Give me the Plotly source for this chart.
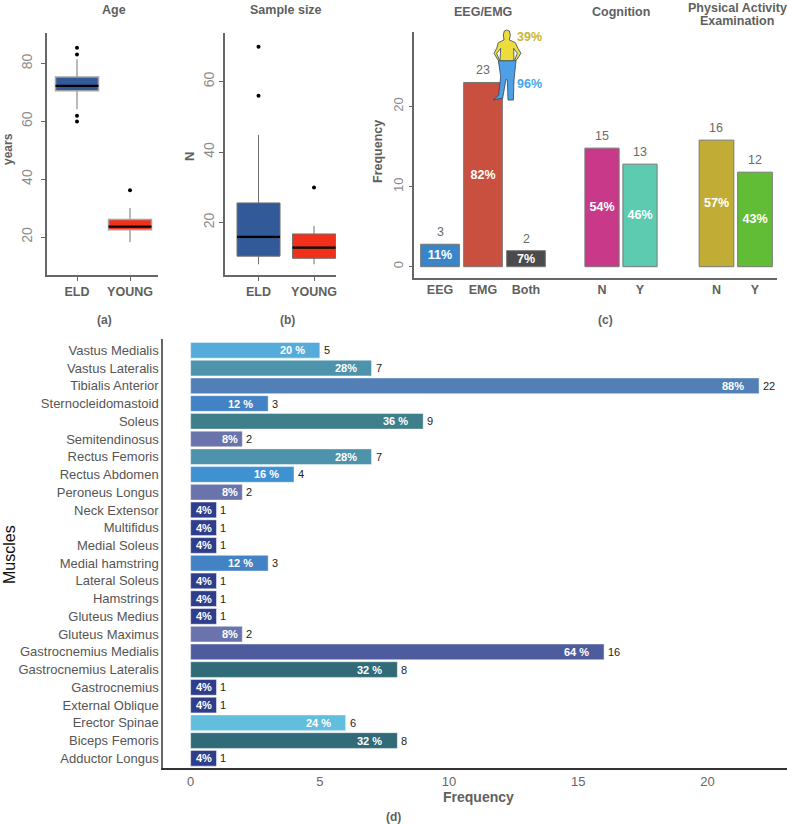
import plotly.graph_objects as go

W, H = 787, 824
FONT = "Liberation Sans"

# (a) age, (b) sample size: box stats
groups = ["ELD", "YOUNG"]
box_colors = ["#325a98", "#f0301a"]
age_q1 = [70.6, 22.5]
age_med = [72.3, 23.6]
age_q3 = [75.4, 26.1]
age_low = [64.2, 18.2]
age_high = [81.5, 30.0]
age_out_x = ["ELD", "ELD", "ELD", "ELD", "YOUNG"]
age_out_y = [85.5, 83.2, 62.0, 60.0, 36.2]

n_q1 = [10.5, 9.9]
n_med = [16.0, 12.9]
n_q3 = [25.6, 16.8]
n_low = [8.2, 8.2]
n_high = [44.9, 19.1]
n_out_x = ["ELD", "ELD", "YOUNG"]
n_out_y = [69.9, 56.0, 30.0]

# (c) counts
eeg_cats = ["EEG", "EMG", "Both"]
eeg_heights = [2.8, 23, 2]
eeg_counts = ["3", "23", "2"]
eeg_pct = ["11%", "82%", "7%"]
eeg_colors = ["#3a85c8", "#c94f3e", "#4b4b4b"]

cog_cats = ["N", "Y"]
cog_heights = [14.8, 12.8]
cog_counts = ["15", "13"]
cog_pct = ["54%", "46%"]
cog_colors = ["#c8398a", "#5ccbaf"]

pa_cats = ["N", "Y"]
pa_heights = [15.8, 11.8]
pa_counts = ["16", "12"]
pa_pct = ["57%", "43%"]
pa_colors = ["#c1ad35", "#62bd36"]

# (d) muscles, bottom to top
muscles = [
    "Adductor Longus", "Biceps Femoris", "Erector Spinae", "External Oblique",
    "Gastrocnemius", "Gastrocnemius Lateralis", "Gastrocnemius Medialis",
    "Gluteus Maximus", "Gluteus Medius", "Hamstrings", "Lateral Soleus",
    "Medial hamstring", "Medial Soleus", "Multifidus", "Neck Extensor",
    "Peroneus Longus", "Rectus Abdomen", "Rectus Femoris", "Semitendinosus",
    "Soleus", "Sternocleidomastoid", "Tibialis Anterior", "Vastus Lateralis",
    "Vastus Medialis",
]
muscle_freq = [1, 8, 6, 1, 1, 8, 16, 2, 1, 1, 1, 3, 1, 1, 1, 2, 4, 7, 2, 9, 3, 22, 7, 5]
muscle_pct = [
    "4%", "32 %", "24 %", "4%", "4%", "32 %", "64 %", "8%", "4%", "4%", "4%",
    "12 %", "4%", "4%", "4%", "8%", "16 %", "28%", "8%", "36 %", "12 %", "88%",
    "28%", "20 %",
]
freq_colors = {
    1: "#2f3d8a", 2: "#6a73ab", 3: "#4382c4", 4: "#3f92d2", 5: "#55acdb",
    6: "#62bedd", 7: "#4c93ab", 8: "#326b78", 9: "#3f7f8a", 16: "#4e5c9d",
    22: "#527fb6",
}


def px_x(x):
    return x / W


def px_y(y):
    return 1 - y / H


def label(x, y, text, size=12.5, color="#5f5f5f", bold=True, angle=0):
    return dict(
        x=px_x(x), y=px_y(y), xref="paper", yref="paper", text=text, showarrow=False,
        textangle=angle, xanchor="center", yanchor="middle",
        font=dict(family=FONT, size=size, color=color, weight="bold" if bold else "normal"),
    )


def icon_path(points, color):
    path = "M " + " L ".join(f"{px_x(480 + x / 3):.4f},{px_y(20 + y / 3):.4f}" for x, y in points) + " Z"
    return dict(type="path", xref="paper", yref="paper", path=path, fillcolor=color,
                line=dict(color="#33415c", width=0.8), layer="above")


fig = go.Figure()


def add_boxes(xa, ya, q1, med, q3, low, high, out_x, out_y, width, line_color, whisker):
    for i, g in enumerate(groups):
        fig.add_trace(go.Box(
            x=[g], q1=[q1[i]], median=[med[i]], q3=[q3[i]], lowerfence=[low[i]], upperfence=[high[i]],
            width=width, whiskerwidth=0, fillcolor=box_colors[i], xaxis=xa, yaxis=ya,
            line=dict(color=line_color, width=whisker), boxpoints=False,
        ))
        # black median drawn as a flat box on top
        fig.add_trace(go.Box(
            x=[g], q1=[med[i]], median=[med[i]], q3=[med[i]], lowerfence=[med[i]], upperfence=[med[i]],
            width=width, whiskerwidth=0, xaxis=xa, yaxis=ya,
            line=dict(color="black", width=2.2), boxpoints=False,
        ))
    fig.add_trace(go.Scatter(
        x=out_x, y=out_y, mode="markers", xaxis=xa, yaxis=ya,
        marker=dict(color="black", size=4),
    ))


add_boxes("x", "y", age_q1, age_med, age_q3, age_low, age_high, age_out_x, age_out_y, 0.81, "#a3a3a3", 1.5)
add_boxes("x2", "y2", n_q1, n_med, n_q3, n_low, n_high, n_out_x, n_out_y, 0.775, "#707070", 1)


def add_bars(xa, cats, heights, pct, colors):
    fig.add_trace(go.Bar(
        x=cats, y=heights, width=0.9, xaxis=xa, yaxis="y3", marker=dict(color=colors, line=dict(color="#777777", width=1)),
        text=pct, textposition="inside", insidetextanchor="middle", textangle=0, constraintext="none",
        textfont=dict(family=FONT, size=12.5, color="white", weight="bold"),
    ))


add_bars("x3", eeg_cats, eeg_heights, eeg_pct, eeg_colors)
add_bars("x4", cog_cats, cog_heights, cog_pct, cog_colors)
add_bars("x5", pa_cats, pa_heights, pa_pct, pa_colors)

fig.add_trace(go.Bar(
    y=muscles, x=muscle_freq, orientation="h", width=0.885, xaxis="x6", yaxis="y6",
    marker=dict(color=[freq_colors[v] for v in muscle_freq], line=dict(color="rgba(255,255,255,0.45)", width=1)),
))

annotations = [
    label(114, 10, "Age"), label(286, 10, "Sample size"), label(483, 12, "EEG/EMG"),
    label(621, 12, "Cognition"),
    label(737, 8, "Physical Activity"), label(737, 21, "Examination"),
    label(8, 149, "years", 12, angle=-90), label(190, 157, "N", 13, angle=-90), label(378, 152, "Frequency", angle=-90),
    label(104, 320, "(a)", 12), label(287, 320, "(b)", 12), label(605, 320, "(c)", 12), label(393, 817, "(d)", 12),
    label(478, 797, "Frequency", 14), label(9, 555, "Muscles", 16, "#111111", False, -90),
    label(529, 37, "39%", 12.5, "#c9b52f"), label(529, 84, "96%", 12.5, "#45a8ec"),
]

# counts above the bars of (c)
for xa, cats, heights, counts in [
    ("x3", eeg_cats, eeg_heights, eeg_counts),
    ("x4", cog_cats, cog_heights, cog_counts),
    ("x5", pa_cats, pa_heights, pa_counts),
]:
    for c, h, t in zip(cats, heights, counts):
        annotations.append(dict(
            x=c, y=h, xref=xa, yref="y3", text=t, showarrow=False, yanchor="bottom", yshift=3,
            font=dict(family=FONT, size=12.5, color="#6a6a6a"),
        ))

# percent inside and count beside the bars of (d)
for m, v, p in zip(muscles, muscle_freq, muscle_pct):
    annotations.append(dict(
        x=v, y=m, xref="x6", yref="y6", text=p, showarrow=False, xanchor="right",
        xshift=-13 if v > 2 else -2.5,
        font=dict(family=FONT, size=11, color="white", weight="bold"),
    ))
    annotations.append(dict(
        x=v, y=m, xref="x6", yref="y6", text=str(v), showarrow=False, xanchor="left", xshift=2,
        font=dict(family=FONT, size=11, color="#222222"),
    ))

# pictogram on the EMG bar
legs = [(55, 122), (108, 122), (102, 180), (100, 240), (84, 240), (82, 180), (78, 178),
        (68, 235), (40, 239), (56, 226), (62, 170)]
body = [(72, 60), (70, 45), (73, 33), (80, 30), (88, 33), (91, 45), (88, 60), (106, 68), (114, 85),
        (123, 100), (108, 122), (104, 120), (112, 100), (101, 85), (102, 122), (60, 122), (62, 85),
        (50, 100), (58, 120), (55, 122), (42, 100), (50, 85), (55, 68)]
shapes = [icon_path(legs, "#4d9fe6"), icon_path(body, "#ecdc3c")]

AXIS = dict(showgrid=False, zeroline=False, showline=True, linecolor="#666666", linewidth=1.5, automargin=False)
NUM_FONT = dict(family=FONT, size=14, color="#8c8c8c")
CAT_FONT = dict(family=FONT, size=12.5, color="#5f5f5f", weight="bold")


def xdom(a, b):
    return [px_x(a), px_x(b)]


def ydom(top, bottom):
    return [px_y(bottom), px_y(top)]


fig.update_layout(
    template="none", width=W, height=H, margin=dict(l=0, r=0, t=0, b=0), showlegend=False,
    plot_bgcolor="white", paper_bgcolor="white", boxmode="overlay", barmode="overlay",
    annotations=annotations, shapes=shapes,
    xaxis=dict(AXIS, domain=xdom(47, 158), anchor="y", range=[-0.566, 1.528], ticks="outside", ticklen=4,
               tickcolor="#666666", tickfont=CAT_FONT, categoryorder="array", categoryarray=groups),
    yaxis=dict(AXIS, domain=ydom(33, 275), anchor="x", range=[6.85, 90.6], tickvals=[20, 40, 60, 80], ticks="outside",
               ticklen=4, tickcolor="#666666", tickangle=-90, tickfont=NUM_FONT, ticklabelstandoff=4),
    xaxis2=dict(AXIS, domain=xdom(225, 336), anchor="y2", range=[-0.604, 1.396], ticks="outside", ticklen=4,
                tickcolor="#666666", tickfont=CAT_FONT, categoryorder="array", categoryarray=groups),
    yaxis2=dict(AXIS, domain=ydom(33, 275), anchor="x2", range=[5.16, 73.8], tickvals=[20, 40, 60], ticks="outside",
                ticklen=4, tickcolor="#666666", tickangle=-90, tickfont=NUM_FONT),
    xaxis3=dict(AXIS, domain=xdom(414.3, 565), anchor="y3", range=[-0.598, 2.907], tickfont=CAT_FONT,
                categoryorder="array", categoryarray=eeg_cats),
    xaxis4=dict(AXIS, domain=xdom(565, 678), anchor="y3", range=[-0.974, 2], tickfont=CAT_FONT,
                categoryorder="array", categoryarray=cog_cats),
    xaxis5=dict(AXIS, domain=xdom(678, 776.7), anchor="y3", range=[-1.0, 1.564], tickfont=CAT_FONT,
                categoryorder="array", categoryarray=pa_cats),
    yaxis3=dict(AXIS, domain=ydom(32, 277.7), anchor="x3", range=[-1.375, 29.3], tickvals=[0, 10, 20], ticks="outside",
                ticklen=4, tickcolor="#666666", tickangle=-90, tickfont=dict(NUM_FONT, size=13)),
    xaxis6=dict(AXIS, domain=xdom(163, 787), anchor="y6", range=[-1.07, 23.08], linecolor="#333333",
                tickvals=[0, 5, 10, 15, 20], tickfont=dict(family=FONT, size=13, color="#666666")),
    yaxis6=dict(AXIS, domain=ydom(339, 768.3), anchor="x6", range=[-0.564, 23.637], linecolor="#666666",
                tickfont=dict(family=FONT, size=13, color="#555555"),
                categoryorder="array", categoryarray=muscles, dtick=1),
)

fig.write_html("out.html", config={"displayModeBar": False}, post_script="document.body.style.margin='0';")
